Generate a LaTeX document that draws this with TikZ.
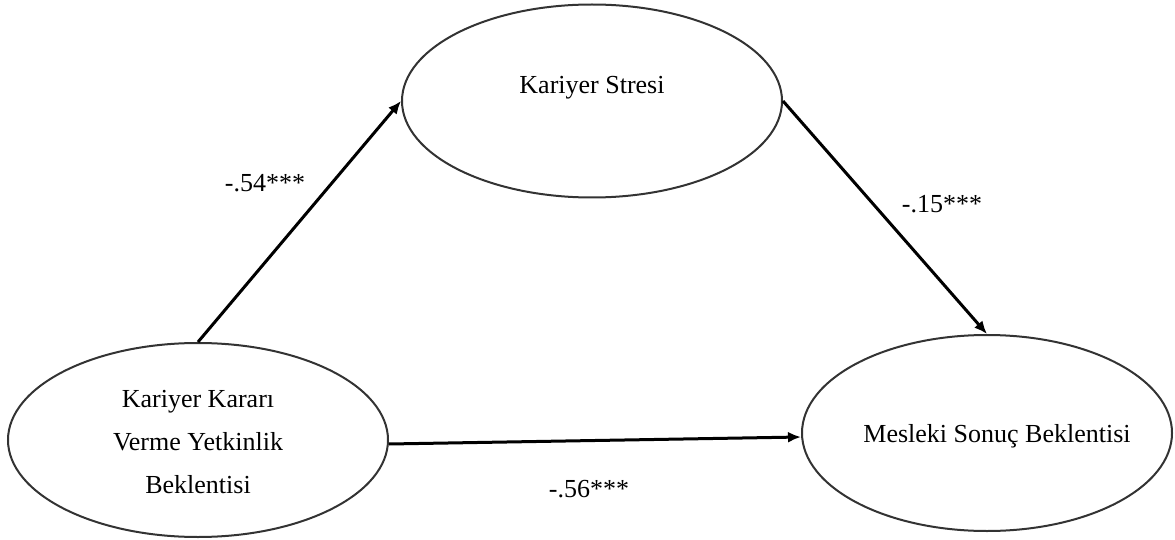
\documentclass[tikz,border=0pt]{standalone}
\usepackage{fontspec}
\setmainfont{Liberation Serif}
\usetikzlibrary{shapes.geometric,arrows.meta}
\begin{document}
\begin{tikzpicture}[x=1pt,y=-1pt,
  oval/.style={ellipse,draw=black!80,line width=2pt,inner sep=0pt},
  txt/.style={font=\fontsize{26}{43}\selectfont,inner sep=0pt,align=center},
  lab/.style={font=\fontsize{26}{30}\selectfont,inner sep=0pt},
  arr/.style={line width=3pt,-{Latex[length=13pt,width=11pt]}}]
\useasboundingbox (0,0) rectangle (1175,540);
\node[oval,minimum width=380pt,minimum height=193pt] (top) at (592,101) {};
\node[oval,minimum width=380pt,minimum height=194pt] (left) at (198,440) {};
\node[oval,minimum width=370pt,minimum height=196pt] (right) at (987,433) {};
\node[txt] (topT) at (592,88) {Kariyer Stresi};
\node[txt] (leftT) at (198,442) {Kariyer Kararı\\Verme Yetkinlik\\Beklentisi};
\node[txt] (rightT) at (997,436) {Mesleki Sonuç Beklentisi};
\draw[arr] (left.north) -- (top.west);
\draw[arr] (top.east) -- (right.north);
\draw[arr] ([yshift=-4pt]left.east) -- ([yshift=-4pt]right.west);
\node[lab] (l1) at (265,183) {-.54***};
\node[lab] (l2) at (942,204) {-.15***};
\node[lab] (l3) at (589,489) {-.56***};
\end{tikzpicture}
\end{document}
